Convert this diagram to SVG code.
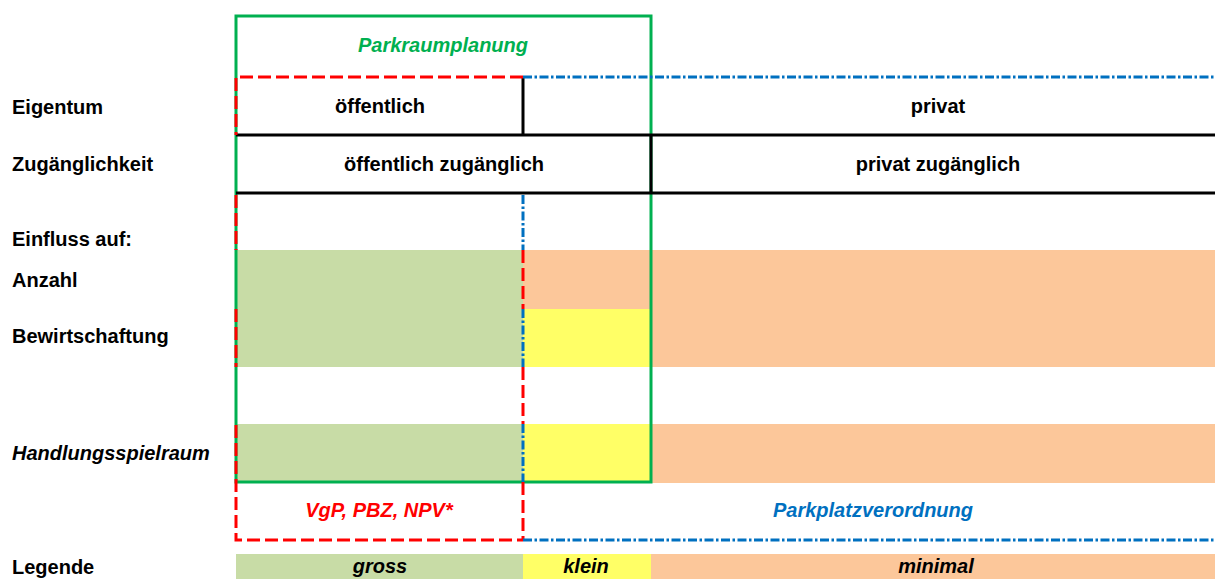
<svg xmlns="http://www.w3.org/2000/svg" width="1215" height="579" viewBox="0 0 1215 579">
<style>
text{font-family:"Liberation Sans",Arial,sans-serif;font-size:20px;font-weight:bold;fill:#000}
.it{font-style:italic}
.mid{text-anchor:middle}
.g{fill:#C8DCA6}.y{fill:#FFFF66}.o{fill:#FCC79A}
.blk{stroke:#000;stroke-width:3;fill:none}
.grn{stroke:#00B050;stroke-width:3;fill:none}
.red{stroke:#FF0000;stroke-width:3;fill:none;stroke-dasharray:13 5}
.blu{stroke:#0070C0;stroke-width:3;fill:none;stroke-dasharray:9 2.5 2.5 2.5}
</style>
<rect width="1215" height="579" fill="#fff"/>
<g id="fills">
<rect class="g" x="236" y="250" width="287" height="117"/>
<rect class="o" x="523" y="250" width="692" height="59"/>
<rect class="y" x="523" y="309" width="128" height="58"/>
<rect class="o" x="651" y="309" width="564" height="58"/>
<rect class="g" x="236" y="424" width="287" height="58"/>
<rect class="y" x="523" y="424" width="128" height="58"/>
<rect class="o" x="651" y="424" width="564" height="59"/>
</g>
<g id="legend-bar">
<rect class="g" x="236" y="554" width="287" height="25"/>
<rect class="y" x="523" y="554" width="128" height="25"/>
<rect class="o" x="651" y="554" width="564" height="25"/>
</g>
<g id="connectors">
<rect class="grn" x="236" y="16" width="415" height="466"/>
<path class="blk" d="M236 135H1215M236 193H1215M523 77V135M651 135V193"/>
<path class="red" d="M523 77H236V135"/>
<path class="red" d="M236 195V250M236 309V367M236 425V540H523"/>
<path class="red" d="M523 250V309M523 367V424M523 482V540"/>
<path class="blu" d="M523 77H1215"/>
<path class="blu" d="M523 540H1215"/>
<path class="blu" d="M523 195V250M523 309V367M523 424V482"/>
</g>
<g id="labels-left">
<text x="12" y="114">Eigentum</text>
<text x="12" y="171">Zugänglichkeit</text>
<text x="12" y="246">Einfluss auf:</text>
<text x="12" y="287">Anzahl</text>
<text x="12" y="343">Bewirtschaftung</text>
<text class="it" x="12" y="460">Handlungsspielraum</text>
<text x="12" y="574">Legende</text>
</g>
<g id="node-parkraumplanung">
<text class="it mid" x="443" y="52" style="fill:#00B050">Parkraumplanung</text>
</g>
<g id="node-eigentum">
<text class="mid" x="380" y="113">öffentlich</text>
<text class="mid" x="938" y="113">privat</text>
</g>
<g id="node-zugaenglichkeit">
<text class="mid" x="444" y="171">öffentlich zugänglich</text>
<text class="mid" x="938" y="171">privat zugänglich</text>
</g>
<g id="node-vgp">
<text class="it mid" x="379" y="517" style="fill:#FF0000">VgP, PBZ, NPV*</text>
</g>
<g id="node-ppv">
<text class="it mid" x="873" y="517" style="fill:#0070C0">Parkplatzverordnung</text>
</g>
<g id="legend-labels">
<text class="it mid" x="380" y="573">gross</text>
<text class="it mid" x="586" y="573">klein</text>
<text class="it mid" x="936" y="573">minimal</text>
</g>
</svg>
